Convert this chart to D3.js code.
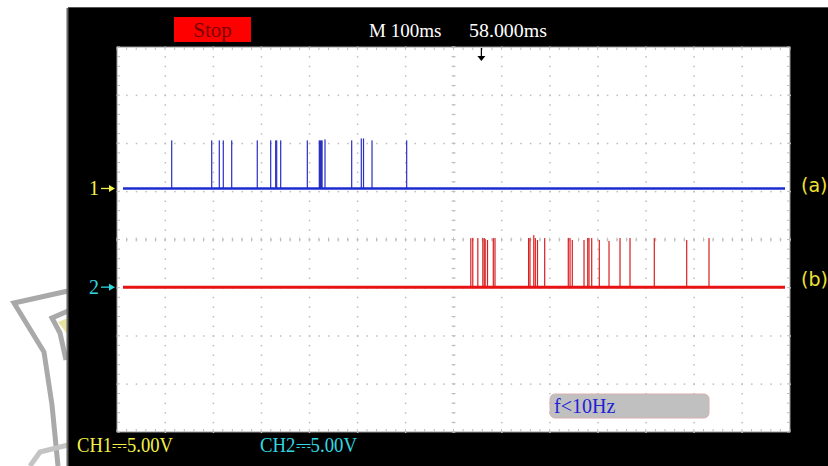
<!DOCTYPE html>
<html><head><meta charset="utf-8">
<script src="https://cdn.jsdelivr.net/npm/d3@7"></script>
<style>html,body{margin:0;padding:0;background:#fff;}svg{display:block;}</style>
</head><body>
<svg id="c" width="828" height="466"></svg>
<script>
// ---- data (time in ms relative to screen centre, volts) ----
const timeRange = [-700, 700];          // 14 div x 100 ms
const divRange = [-4, 4];               // 8 vertical divisions
const triggerTime = 58;                 // ms
const ch1Offset = 1.06;                 // div
const ch2Offset = -0.99;                // div
const voltsPerDiv = 5;
// [start ms, width ms, high volts]
const ch1Pulses = [
  [-586.2,0.5,5.0],[-503.0,0.5,5.0],[-487.2,0.5,5.0],[-478.9,0.5,5.0],[-461.4,0.5,5.0],
  [-408.2,0.5,5.0],[-380.3,0.5,5.0],[-369.9,0.5,5.0],[-367.8,0.5,5.0],[-359.5,0.5,5.0],
  [-304.1,0.5,5.0],[-279.2,8.3,5.0],[-267.3,0.5,5.1],[-211.8,0.5,5.0],[-191.8,0.5,5.2],
  [-187.2,0.5,5.2],[-169.5,0.5,5.0],[-97.4,0.5,5.0]
];
const ch2Pulses = [
  [36.0,0.5,5.1],[40.1,0.5,5.1],[50.6,0.5,5.1],[61.0,0.5,5.1],[63.9,0.5,5.1],[65.9,0.5,5.0],
  [70.7,0.5,4.9],[82.8,0.5,5.1],[86.3,0.5,5.1],[156.2,0.5,5.1],[159.1,0.5,5.1],[167.0,0.5,5.4],
  [170.2,0.5,5.1],[174.7,0.5,4.9],[189.7,0.5,5.1],[238.8,0.5,5.1],[242.4,0.5,5.1],[247.1,0.5,4.9],
  [271.5,0.5,4.9],[279.2,0.5,5.1],[281.9,0.5,5.1],[287.5,0.5,5.1],[303.3,0.5,4.9],[323.5,0.5,4.8],
  [346.4,0.5,5.1],[367.2,0.5,5.1],[417.7,0.5,5.1],[485.1,0.5,4.9],[531.5,0.5,5.1]
];
const topLabels = {stop:"Stop", timebase:"M 100ms", delay:"58.000ms"};
const chLabels = ["CH1\u23935.00V", "CH2\u23935.00V"];
const sideLabels = ["(a)", "(b)"];
const freqLabel = "f<10Hz";

// ---- drawing ----
const svg = d3.select("#c");
const L = 117, R = 790, T = 47, B = 432;
const x = d3.scaleLinear().domain(timeRange).range([L, R]);
const y = d3.scaleLinear().domain(divRange).range([B, T]);
const serif = "'Liberation Serif', 'DejaVu Serif', serif";

// watermark on white left margin
const wm = svg.append("g").attr("fill","none").attr("stroke","#a9a9a9").attr("stroke-width",5).attr("stroke-linejoin","miter");
wm.append("path").attr("d","M68,291 L14,303 L44,352 L52,405 L58,466");
wm.append("path").attr("d","M68,311 L52,318 L60,333 L66,360");
wm.append("path").attr("d","M30,466 L40,452 L68,445").attr("stroke","#c4c4c4");
svg.append("path").attr("d","M58,322 L68,318 L68,335 Z").attr("fill","#e8e3a0");

// black instrument area
svg.append("rect").attr("x",68).attr("y",8).attr("width",760).attr("height",458).attr("fill","#000");
svg.append("line").attr("x1",68).attr("x2",828).attr("y1",7.5).attr("y2",7.5).attr("stroke","#555");
svg.append("line").attr("x1",67.5).attr("x2",67.5).attr("y1",8).attr("y2",466).attr("stroke","#666").attr("stroke-width",2);

// screen
svg.append("rect").attr("x",L).attr("y",T).attr("width",R-L).attr("height",B-T).attr("fill","#fff")
  .attr("stroke","#9a9a9a").attr("stroke-width",1);

// grid dots
const g = svg.append("g").attr("fill","#bdbdbd");
const sub = d3.range(divRange[0], divRange[1] + 0.001, 0.2);
const subT = d3.range(timeRange[0], timeRange[1] + 0.001, 20);
d3.range(-600, 601, 100).forEach(t => {
  g.selectAll(null).data(sub).enter().append("rect")
    .attr("x", x(t) - 0.5).attr("y", d => y(d) - 0.5).attr("width", 1.5).attr("height", 1.5);
});
d3.range(-3, 4, 1).forEach(dv => {
  g.selectAll(null).data(subT).enter().append("rect")
    .attr("x", d => x(d) - 0.5).attr("y", y(dv) - 0.5).attr("width", 1.5).attr("height", 1.5);
});
// edge + centre ticks
const tk = svg.append("g").attr("stroke","#bdbdbd").attr("stroke-width",1);
subT.forEach(t => {
  tk.append("line").attr("x1",x(t)).attr("x2",x(t)).attr("y1",T).attr("y2",T+3);
  tk.append("line").attr("x1",x(t)).attr("x2",x(t)).attr("y1",B-3).attr("y2",B);
  tk.append("line").attr("x1",x(t)).attr("x2",x(t)).attr("y1",y(0)-2).attr("y2",y(0)+2);
});
sub.forEach(d => {
  tk.append("line").attr("x1",L).attr("x2",L+3).attr("y1",y(d)).attr("y2",y(d));
  tk.append("line").attr("x1",R-3).attr("x2",R).attr("y1",y(d)).attr("y2",y(d));
  tk.append("line").attr("x1",x(0)-2).attr("x2",x(0)+2).attr("y1",y(d)).attr("y2",y(d));
});

// traces
function trace(pulses, offset, color, pulseColor, baseW) {
  const yv = v => y(offset + v / voltsPerDiv);
  const gg = svg.append("g");
  gg.selectAll("rect").data(pulses).enter().append("rect")
    .attr("x", d => x(d[0]) - 0.6)
    .attr("width", d => Math.max(1.2, x(d[0] + d[1]) - x(d[0])))
    .attr("y", d => yv(d[2]))
    .attr("height", d => yv(0) - yv(d[2]))
    .attr("fill", pulseColor);
  gg.append("line").attr("x1", x(timeRange[0]) + 6).attr("x2", x(timeRange[1]) - 5)
    .attr("y1", yv(0)).attr("y2", yv(0)).attr("stroke", color).attr("stroke-width", baseW);
}
trace(ch1Pulses, ch1Offset, "#1c2bd0", "#2a2fc0", 2.6);
trace(ch2Pulses, ch2Offset, "#e81212", "#d82020", 3);

// trigger arrow
const tx = x(triggerTime);
svg.append("line").attr("x1",tx).attr("x2",tx).attr("y1",T+1).attr("y2",T+10).attr("stroke","#000").attr("stroke-width",1.2);
svg.append("path").attr("d",`M${tx-4},${T+9} L${tx+4},${T+9} L${tx},${T+14} Z`).attr("fill","#000");

// top status
svg.append("rect").attr("x",174).attr("y",17).attr("width",77).attr("height",25).attr("fill","#ff0000");
svg.append("text").attr("x",212.5).attr("y",37).attr("text-anchor","middle").attr("font-family",serif)
  .attr("font-size",21).attr("fill","#7a0000").text(topLabels.stop);
svg.append("text").attr("x",369).attr("y",37).attr("font-family",serif).attr("font-size",19)
  .attr("fill","#fff").text(topLabels.timebase);
svg.append("text").attr("x",469).attr("y",37).attr("font-family",serif).attr("font-size",19)
  .attr("fill","#fff").attr("textLength",78).attr("lengthAdjust","spacingAndGlyphs").text(topLabels.delay);

// channel markers
svg.append("text").attr("x",89).attr("y",y(ch1Offset)+7).attr("font-family",serif).attr("font-size",20)
  .attr("fill","#f2f24a").text("1");
svg.append("text").attr("x",89).attr("y",y(ch2Offset)+7).attr("font-family",serif).attr("font-size",20)
  .attr("fill","#30d8e0").text("2");
[[ch1Offset,"#f2f24a"],[ch2Offset,"#30d8e0"]].forEach(([o,c]) => {
  const yy = y(o);
  svg.append("line").attr("x1",101).attr("x2",110).attr("y1",yy).attr("y2",yy).attr("stroke",c).attr("stroke-width",1.3);
  svg.append("path").attr("d",`M109,${yy-3.5} L115,${yy} L109,${yy+3.5} Z`).attr("fill",c);
});

// side labels
svg.append("text").attr("x",801).attr("y",192).attr("font-family","'DejaVu Sans', sans-serif").attr("font-size",19)
  .attr("fill","#f0e030").text(sideLabels[0]);
svg.append("text").attr("x",801).attr("y",286).attr("font-family","'DejaVu Sans', sans-serif").attr("font-size",19)
  .attr("fill","#f0e030").text(sideLabels[1]);

// bottom channel settings
svg.append("text").attr("x",77).attr("y",452).attr("font-family",serif).attr("font-size",20)
  .attr("fill","#f2f24a").attr("textLength",96).attr("lengthAdjust","spacingAndGlyphs").text(chLabels[0]);
svg.append("text").attr("x",260).attr("y",452).attr("font-family",serif).attr("font-size",20)
  .attr("fill","#30d8e0").attr("textLength",97).attr("lengthAdjust","spacingAndGlyphs").text(chLabels[1]);

// frequency box
svg.append("rect").attr("x",550).attr("y",394).attr("width",159).attr("height",24).attr("rx",5)
  .attr("fill","#c0c0c0").attr("stroke","#d8b0b0").attr("stroke-width",1);
svg.append("text").attr("x",554).attr("y",413).attr("font-family",serif).attr("font-size",20)
  .attr("fill","#2222d8").text(freqLabel);
</script>
</body></html>
